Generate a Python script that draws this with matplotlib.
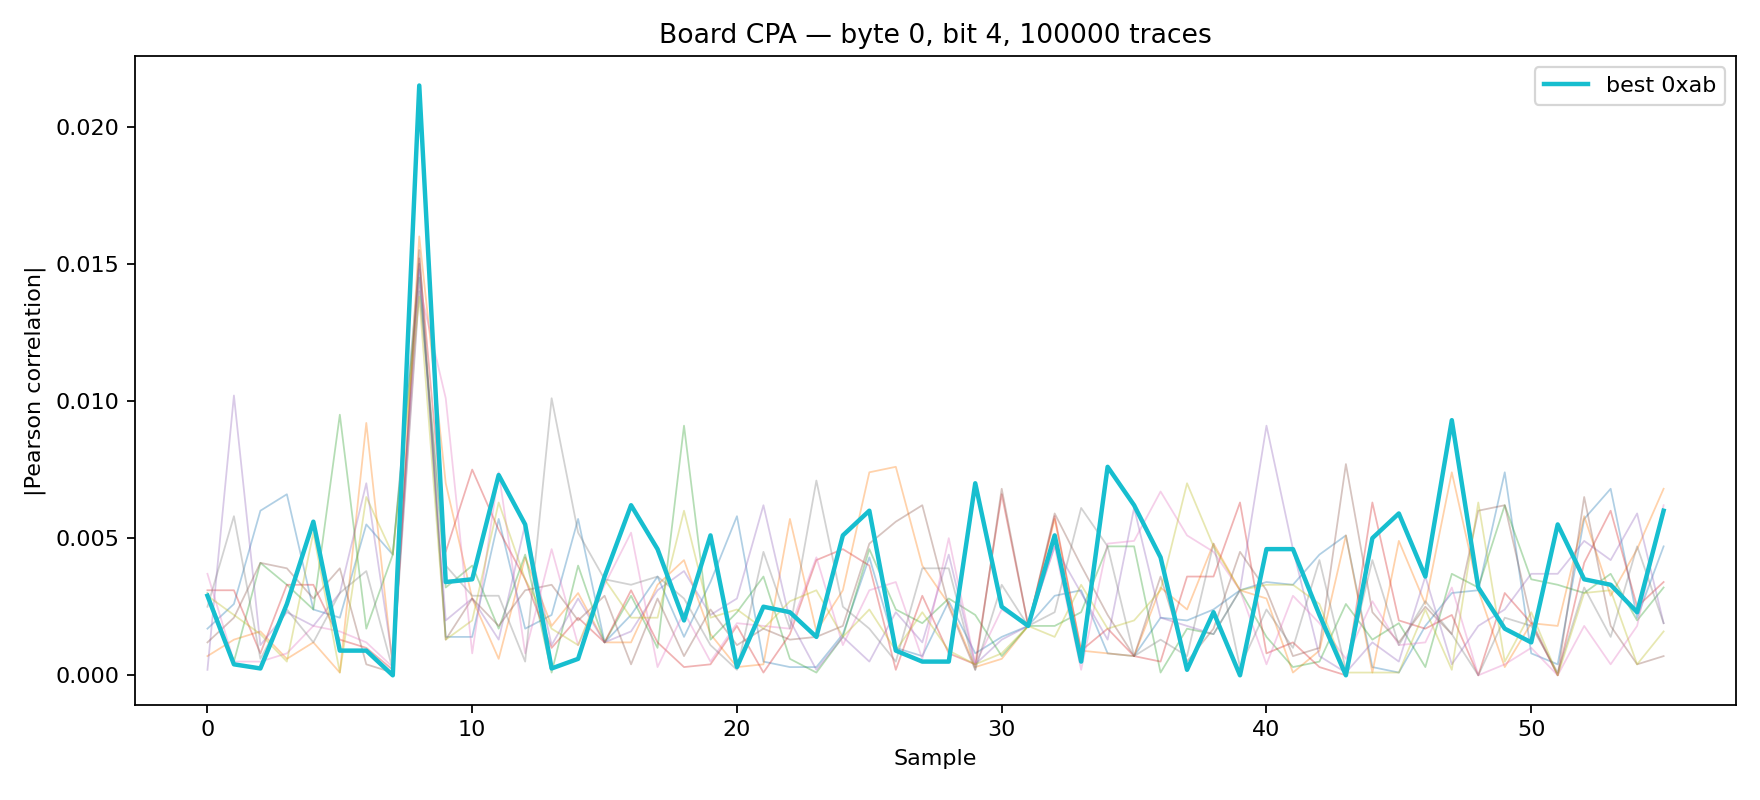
import matplotlib
matplotlib.use("Agg")
import matplotlib.pyplot as plt
import numpy as np

# |corr| per sample for the best key guess and the other top candidates
samples = np.arange(56)

best_guess = "0xab"
best_corr = [0.0029, 0.0004, 0.00025, 0.0026, 0.0056, 0.0009, 0.0009, 0.0, 0.0215, 0.0034, 0.0035,
             0.0073, 0.0055, 0.00025, 0.0006, 0.0036, 0.0062, 0.0046, 0.0020, 0.0051, 0.0003, 0.0025, 0.0023,
             0.0014, 0.0051, 0.0060, 0.0009, 0.0005, 0.0005, 0.0070, 0.0025, 0.0018, 0.0051, 0.0005,
             0.0076, 0.0062, 0.0043, 0.0002, 0.0023, 0.0, 0.0046, 0.0046, 0.0022, 0.0,
             0.0050, 0.0059, 0.0036, 0.0093, 0.0032, 0.0017, 0.0012, 0.0055, 0.0035, 0.0033, 0.0023, 0.0060]

other0 = [0.0017, 0.0026, 0.0060, 0.0066, 0.0024, 0.0021, 0.0055, 0.0044, 0.0150, 0.0014, 0.0014,
          0.0057, 0.0017, 0.0022, 0.0057, 0.0012, 0.0022, 0.0036, 0.0014, 0.0034, 0.0058, 0.0005, 0.0003,
          0.0003, 0.0015, 0.0043, 0.0010, 0.0007, 0.0027, 0.0008, 0.0014, 0.0018, 0.0029, 0.0031,
          0.0008, 0.0007, 0.0021, 0.0020, 0.0024, 0.0031, 0.0034, 0.0033, 0.0044, 0.0051,
          0.0003, 0.0001, 0.0018, 0.0030, 0.0031, 0.0074, 0.0008, 0.0004, 0.0057, 0.0068, 0.0021, 0.0047]
other1 = [0.0007, 0.0013, 0.0016, 0.0006, 0.0012, 0.0001, 0.0092, 0.0003, 0.0160, 0.0070, 0.0028,
          0.0006, 0.0043, 0.0018, 0.0030, 0.0012, 0.0012, 0.0033, 0.0042, 0.0015, 0.0003, 0.0004, 0.0057,
          0.0016, 0.0031, 0.0074, 0.0076, 0.0040, 0.0026, 0.0003, 0.0006, 0.0018, 0.0057, 0.0009,
          0.0008, 0.0007, 0.0032, 0.0024, 0.0048, 0.0031, 0.0028, 0.0001, 0.0009, 0.0051,
          0.0001, 0.0049, 0.0026, 0.0074, 0.0031, 0.0003, 0.0019, 0.0018, 0.0058, 0.0029, 0.0046, 0.0068]
other2 = [0.0030, 0.0005, 0.0041, 0.0033, 0.0024, 0.0095, 0.0017, 0.0044, 0.0145, 0.0032, 0.0040,
          0.0017, 0.0044, 0.0001, 0.0040, 0.0012, 0.0029, 0.0010, 0.0091, 0.0013, 0.0023, 0.0036, 0.0006,
          0.0001, 0.0014, 0.0046, 0.0024, 0.0019, 0.0028, 0.0022, 0.0007, 0.0018, 0.0018, 0.0023,
          0.0047, 0.0047, 0.0001, 0.0017, 0.0015, 0.0031, 0.0014, 0.0003, 0.0005, 0.0026,
          0.0013, 0.0019, 0.0003, 0.0037, 0.0032, 0.0062, 0.0035, 0.0033, 0.0030, 0.0037, 0.0020, 0.0032]
other3 = [0.0031, 0.0031, 0.0008, 0.0033, 0.0033, 0.0013, 0.0010, 0.0002, 0.0152, 0.0045, 0.0075,
          0.0053, 0.0035, 0.0010, 0.0021, 0.0012, 0.0031, 0.0012, 0.0003, 0.0004, 0.0018, 0.0001, 0.0015,
          0.0042, 0.0046, 0.0040, 0.0002, 0.0029, 0.0008, 0.0004, 0.0066, 0.0018, 0.0058, 0.0009,
          0.0017, 0.0007, 0.0005, 0.0036, 0.0036, 0.0063, 0.0008, 0.0012, 0.0003, 0.0000,
          0.0063, 0.0020, 0.0017, 0.0022, 0.0000, 0.0030, 0.0019, 0.0000, 0.0041, 0.0060, 0.0025, 0.0034]
other4 = [0.0002, 0.0102, 0.0011, 0.0023, 0.0018, 0.0030, 0.0070, 0.0005, 0.0148, 0.0020, 0.0028,
          0.0013, 0.0055, 0.0011, 0.0028, 0.0012, 0.0016, 0.0031, 0.0038, 0.0022, 0.0028, 0.0062, 0.0020,
          0.0002, 0.0014, 0.0005, 0.0023, 0.0012, 0.0044, 0.0004, 0.0013, 0.0018, 0.0047, 0.0030,
          0.0013, 0.0061, 0.0021, 0.0018, 0.0015, 0.0031, 0.0091, 0.0046, 0.0007, 0.0001,
          0.0012, 0.0005, 0.0036, 0.0004, 0.0018, 0.0024, 0.0037, 0.0037, 0.0049, 0.0042, 0.0059, 0.0019]
other5 = [0.0012, 0.0021, 0.0041, 0.0039, 0.0028, 0.0039, 0.0004, 0.0001, 0.0155, 0.0013, 0.0028,
          0.0018, 0.0031, 0.0033, 0.0020, 0.0029, 0.0004, 0.0028, 0.0007, 0.0024, 0.0011, 0.0017, 0.0013,
          0.0014, 0.0018, 0.0048, 0.0056, 0.0062, 0.0025, 0.0002, 0.0068, 0.0018, 0.0059, 0.0040,
          0.0022, 0.0007, 0.0036, 0.0005, 0.0017, 0.0045, 0.0031, 0.0007, 0.0010, 0.0077,
          0.0023, 0.0012, 0.0025, 0.0015, 0.0060, 0.0062, 0.0020, 0.0000, 0.0065, 0.0018, 0.0004, 0.0007]
other6 = [0.0037, 0.0005, 0.0005, 0.0008, 0.0018, 0.0016, 0.0012, 0.0003, 0.0142, 0.0101, 0.0008,
          0.0074, 0.0008, 0.0046, 0.0011, 0.0033, 0.0052, 0.0003, 0.0023, 0.0005, 0.0019, 0.0018, 0.0017,
          0.0043, 0.0011, 0.0031, 0.0034, 0.0006, 0.0050, 0.0004, 0.0024, 0.0018, 0.0047, 0.0002,
          0.0048, 0.0049, 0.0067, 0.0051, 0.0045, 0.0031, 0.0004, 0.0029, 0.0019, 0.0006,
          0.0027, 0.0011, 0.0012, 0.0032, 0.0000, 0.0004, 0.0010, 0.0000, 0.0018, 0.0004, 0.0018, 0.0062]
other7 = [0.0025, 0.0058, 0.0006, 0.0024, 0.0012, 0.0030, 0.0038, 0.0002, 0.0140, 0.0040, 0.0029,
          0.0029, 0.0005, 0.0101, 0.0052, 0.0035, 0.0033, 0.0036, 0.0028, 0.0011, 0.0002, 0.0045, 0.0017,
          0.0071, 0.0025, 0.0017, 0.0005, 0.0039, 0.0039, 0.0002, 0.0033, 0.0018, 0.0023, 0.0061,
          0.0047, 0.0007, 0.0013, 0.0007, 0.0048, 0.0003, 0.0024, 0.0010, 0.0042, 0.0002,
          0.0042, 0.0011, 0.0027, 0.0015, 0.0000, 0.0021, 0.0018, 0.0001, 0.0032, 0.0014, 0.0047, 0.0019]
other8 = [0.0029, 0.0022, 0.0015, 0.0005, 0.0052, 0.0001, 0.0065, 0.0044, 0.0138, 0.0013, 0.0020,
          0.0063, 0.0035, 0.0017, 0.0011, 0.0035, 0.0021, 0.0021, 0.0060, 0.0021, 0.0024, 0.0017, 0.0027,
          0.0031, 0.0014, 0.0024, 0.0009, 0.0023, 0.0009, 0.0004, 0.0008, 0.0018, 0.0014, 0.0033,
          0.0017, 0.0020, 0.0031, 0.0070, 0.0047, 0.0031, 0.0033, 0.0033, 0.0026, 0.0001,
          0.0001, 0.0001, 0.0024, 0.0002, 0.0063, 0.0005, 0.0023, 0.0000, 0.0030, 0.0031, 0.0004, 0.0016]

others = [other0, other1, other2, other3, other4, other5, other6, other7, other8]


def main():
    fig, ax = plt.subplots(figsize=(11, 5), dpi=160)
    for k, corr in enumerate(others):
        ax.plot(samples, corr, color="C{0}".format(k), linewidth=0.8, alpha=0.35)
    ax.plot(samples, best_corr, color="C9", linewidth=2, label="best " + best_guess)

    ax.set_title("Board CPA \u2014 byte 0, bit 4, 100000 traces")
    ax.set_xlabel("Sample")
    ax.set_ylabel("|Pearson correlation|")
    ax.legend(loc="upper right")
    fig.subplots_adjust(left=0.0765, right=0.9866, top=0.930, bottom=0.119)
    fig.savefig("out.png")


if __name__ == "__main__":
    main()
